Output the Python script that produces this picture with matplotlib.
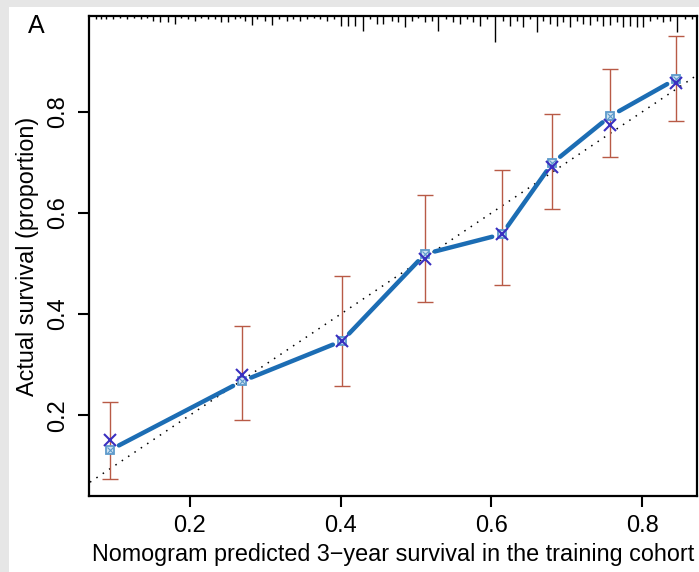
import numpy as np
import matplotlib
matplotlib.use('Agg')
import matplotlib.pyplot as plt
from matplotlib.patches import Rectangle

plt.rcParams['font.family'] = ['Liberation Sans', 'DejaVu Sans']

# calibration points
pred = [0.094, 0.269, 0.402, 0.512, 0.614, 0.681, 0.758, 0.845]
apparent = [0.131, 0.267, 0.347, 0.519, 0.558, 0.699, 0.792, 0.865]
corrected = [0.150, 0.279, 0.347, 0.509, 0.558, 0.691, 0.774, 0.857]
err_hi = [0.226, 0.376, 0.475, 0.636, 0.685, 0.796, 0.885, 0.951]
err_lo = [0.073, 0.190, 0.257, 0.424, 0.457, 0.608, 0.711, 0.782]

# distribution of predictions (top rug)
rug_x = [0.075, 0.082, 0.089, 0.098, 0.107, 0.116, 0.126, 0.135, 0.143, 0.151,
         0.160, 0.171, 0.180, 0.188, 0.197, 0.207, 0.215, 0.224, 0.233, 0.241,
         0.250, 0.260, 0.266, 0.273, 0.282, 0.289, 0.300, 0.309, 0.318, 0.329,
         0.337, 0.346, 0.355, 0.365, 0.373, 0.382, 0.391, 0.400, 0.410, 0.419,
         0.430, 0.439, 0.448, 0.456, 0.468, 0.476, 0.485, 0.495, 0.503, 0.512,
         0.521, 0.529, 0.540, 0.549, 0.558, 0.568, 0.576, 0.585, 0.594, 0.605,
         0.616, 0.625, 0.634, 0.642, 0.651, 0.661, 0.669, 0.678, 0.687, 0.695,
         0.705, 0.714, 0.722, 0.731, 0.740, 0.748, 0.758, 0.767, 0.775, 0.784,
         0.793, 0.801, 0.811, 0.820, 0.828, 0.837, 0.846, 0.857, 0.866]
rug_n = [3, 3, 3, 3, 2, 3, 2, 3, 2, 5,
         6, 6, 8, 2, 3, 5, 2, 3, 3, 6,
         6, 3, 2, 5, 9, 3, 5, 9, 3, 5,
         3, 5, 3, 2, 3, 5, 3, 10, 10, 10,
         15, 3, 8, 8, 5, 6, 11, 5, 2, 6,
         5, 15, 3, 6, 8, 3, 6, 10, 3, 26,
         5, 10, 5, 11, 3, 16, 5, 8, 10, 6,
         11, 5, 8, 9, 5, 10, 9, 6, 11, 10,
         11, 11, 5, 3, 6, 5, 16, 3, 3]

W, H = 699, 572
fig = plt.figure(figsize=(W/100, H/100), dpi=100)
fig.patch.set_facecolor('#e6e6e6')
fig.patches.append(Rectangle((9/W, 0), 1, 1 - 7/H, transform=fig.transFigure,
                             facecolor='white', edgecolor='none', zorder=-10))

ax = fig.add_axes([89/W, 1 - 496/H, 608/W, 480/H])
ax.set_xlim(0.066, 0.873)
ax.set_ylim(0.04, 0.99)

# ideal line
ax.plot([0, 1], [0, 1], color='black', lw=1.1, ls=(0, (1, 4)), zorder=1)

# error bars
ax.errorbar(pred, corrected, yerr=[np.array(corrected) - err_lo, np.array(err_hi) - corrected],
            fmt='none', ecolor='#b85a46', elinewidth=1.0, capsize=6, capthick=1.0, zorder=2)

# apparent line with gaps around points (type="b")
fig.canvas.draw()
tr = ax.transData
pts = tr.transform(np.column_stack([pred, apparent]))
gap = 10
for i in range(len(pts) - 1):
    p0, p1 = pts[i], pts[i + 1]
    d = p1 - p0
    L = np.hypot(*d)
    if L <= 2 * gap:
        continue
    a = p0 + d * gap / L
    b = p1 - d * gap / L
    seg = tr.inverted().transform(np.array([a, b]))
    ax.plot(seg[:, 0], seg[:, 1], color='#1c6db4', lw=3.2, solid_capstyle='round', zorder=3)

ax.plot(pred, apparent, ls='none', marker='s', ms=6, mfc='#cfe2f1', mec='#5d9acb', mew=1.3, zorder=4)
ax.plot(pred, apparent, ls='none', marker='x', ms=4.5, mec='#5d9acb', mew=0.8, zorder=4)
ax.plot(pred, corrected, ls='none', marker='x', ms=8, mec='#3a2fc0', mew=1.5, zorder=5)

# rug of predictions along top
ax.vlines(rug_x, 1 - np.array(rug_n) / 480, 1, transform=ax.get_xaxis_transform(),
          color='black', lw=1.0, zorder=2)

for s in ax.spines.values():
    s.set_linewidth(1.6)

ax.set_xticks([0.2, 0.4, 0.6, 0.8])
ax.set_yticks([0.2, 0.4, 0.6, 0.8])
ax.tick_params(direction='out', length=8, width=1.5, labelsize=17, pad=6)
for lab in ax.get_yticklabels():
    lab.set_rotation(90)
    lab.set_va('center')

ax.set_xlabel('Nomogram predicted 3\u2212year survival in the training cohort', fontsize=16.8, labelpad=4)
ax.set_ylabel('Actual survival (proportion)', fontsize=16.8, labelpad=6)
fig.text(28/W, 1 - 33/H, 'A', fontsize=18)

fig.savefig('out.png', dpi=100, facecolor=fig.get_facecolor())
